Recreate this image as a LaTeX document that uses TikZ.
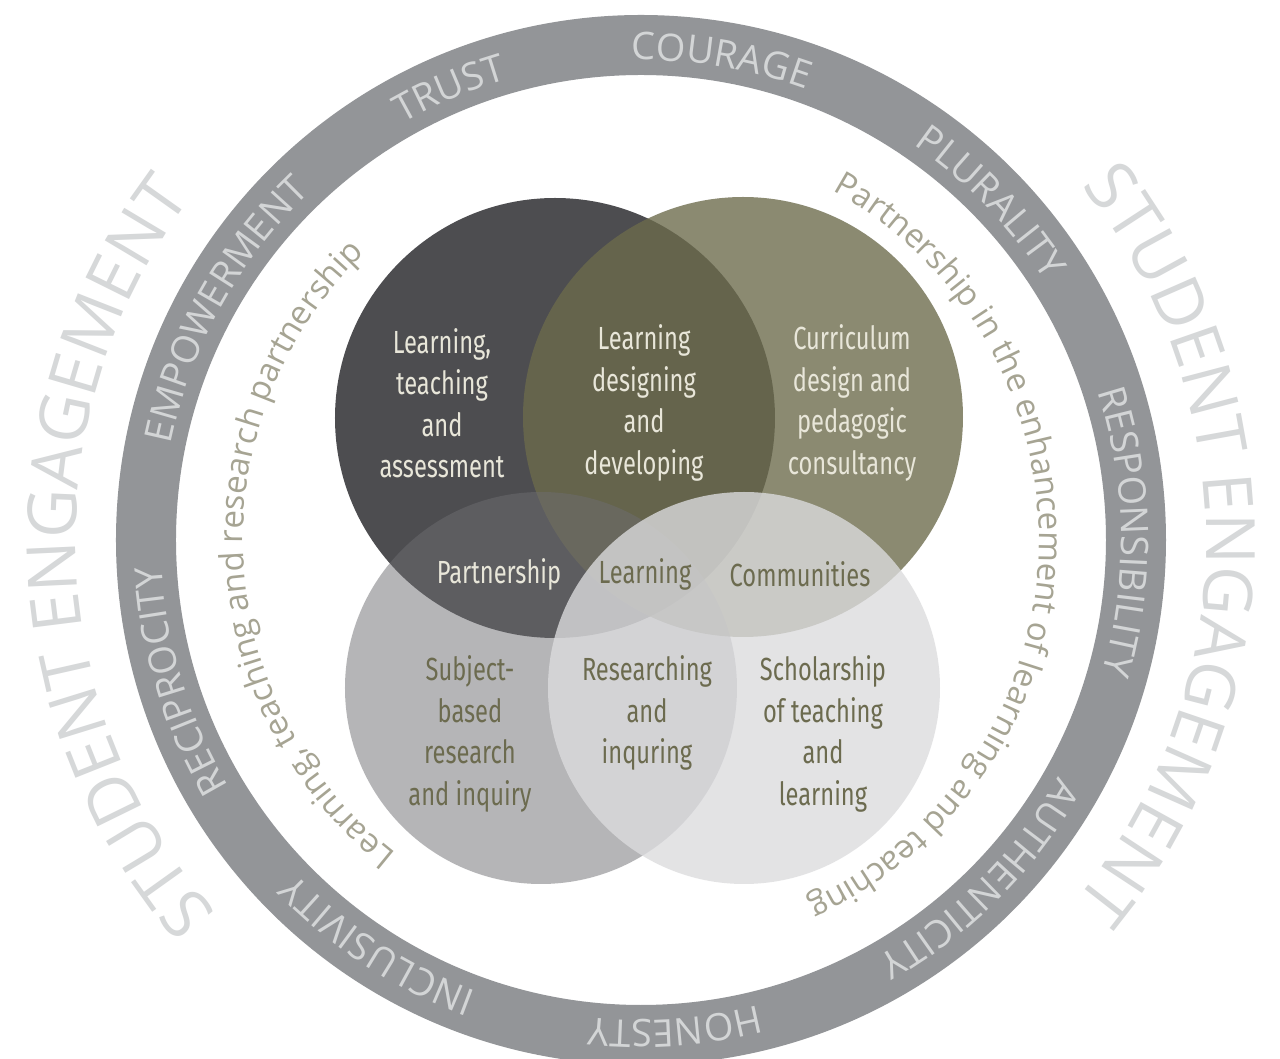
\documentclass[tikz,border=0pt]{standalone}
\usepackage{fontspec}
\usepackage{xcolor}
\usetikzlibrary{decorations.text}

\setmainfont{Open Sans}
\newfontfamily\ringfont{Open Sans}
\newfontfamily\venfont{Fira Sans}[FakeStretch=0.74]

\definecolor{ringgray}{RGB}{147,149,152}
\definecolor{ringtext}{RGB}{211,213,214}
\definecolor{bigtext}{RGB}{214,216,217}
\definecolor{pathtext}{RGB}{166,164,147}
\definecolor{darkc}{RGB}{77,77,80}
\definecolor{olivec}{RGB}{108,107,76}
\definecolor{graybl}{RGB}{109,109,113}
\definecolor{graybr}{RGB}{220,220,222}
\definecolor{cream}{RGB}{232,230,217}
\definecolor{olivetext}{RGB}{108,107,79}

\begin{document}
\begin{tikzpicture}[x=1pt, y=1pt,
    venn/.style={align=center, inner sep=0pt, font=\venfont\fontsize{32}{41.5}\selectfont},
    ondark/.style={venn, text=cream},
    onlight/.style={venn, text=olivetext},
    ringword/.style={decorate, decoration={text along path, text align=center,
        text color=ringtext, text={|\ringfont\fontsize{38}{40}\selectfont|#1}}},
    bigword/.style={decorate, decoration={text along path, text align=center,
        text color=bigtext, text={|\ringfont\fontsize{68}{70}\selectfont|#1}}},
    pathword/.style={decorate, decoration={text along path, text align=center,
        text color=pathtext, text={|\ringfont\fontsize{33}{35}\selectfont|#1}}}
]
\path[use as bounding box, fill=white] (-641,-519) rectangle (639,540);

% outer band
\fill[ringgray, even odd rule] (0,0) circle[radius=525] (0,0) circle[radius=465];

% the four circles
\fill[darkc] (-86,122) circle[radius=220];
\fill[olivec, fill opacity=.79] (102,123) circle[radius=220];
\fill[graybl, fill opacity=.5] (-100,-148) circle[radius=196];
\fill[graybr, fill opacity=.79] (103,-148) circle[radius=196];

% labels in the circles
\node[ondark] (lta) at (-199,137) {Learning,\\teaching\\and\\assessment};
\node[ondark] (ldd) at (3,137) {Learning\\designing\\and\\developing};
\node[ondark] (cdp) at (211,137) {Curriculum\\design and\\pedagogic\\consultancy};
\node[ondark] (part) at (-142,-34) {Partnership};
\node[onlight] (learn) at (4,-34) {Learning};
\node[onlight] (comm) at (159,-34) {Communities};
\node[onlight] (sbr) at (-171,-194) {Subject-\\based\\research\\and inquiry};
\node[onlight] (rai) at (6,-173) {Researching\\and\\inquring};
\node[onlight] (sotl) at (182,-194) {Scholarship\\of teaching\\and\\learning};

% values on the band
\path[ringword=COURAGE] (120.5:480) arc[start angle=120.5, end angle=40.5, radius=480];
\path[ringword=TRUST] (153:480) arc[start angle=153, end angle=73, radius=480];
\path[ringword=EMPOWERMENT] (191:480) arc[start angle=191, end angle=111, radius=480];
\path[ringword=RECIPROCITY] (237:480) arc[start angle=237, end angle=157, radius=480];
\path[ringword=INCLUSIVITY] (277:480) arc[start angle=277, end angle=197, radius=480];
\path[ringword=HONESTY] (314:480) arc[start angle=314, end angle=234, radius=480];
\path[ringword=AUTHENTICITY] (-5:480) arc[start angle=-5, end angle=-85, radius=480];
\path[ringword=RESPONSIBILITY] (41:480) arc[start angle=41, end angle=-39, radius=480];
\path[ringword=PLURALITY] (84:480) arc[start angle=84, end angle=4, radius=480];

% inner lines of text
\path[pathword={Partnership in the enhancement of learning and teaching}]
    (83:398) arc[start angle=83, end angle=-87, radius=398];
\path[pathword={Learning, teaching and research partnership}]
    (268:398) arc[start angle=268, end angle=98, radius=398];

% outer lettering
\path[bigword={STUDENT ENGAGEMENT}] (242:565) arc[start angle=242, end angle=122, radius=565];
\path[bigword={STUDENT ENGAGEMENT}] (59.5:565) arc[start angle=59.5, end angle=-60.5, radius=565];
\end{tikzpicture}
\end{document}
